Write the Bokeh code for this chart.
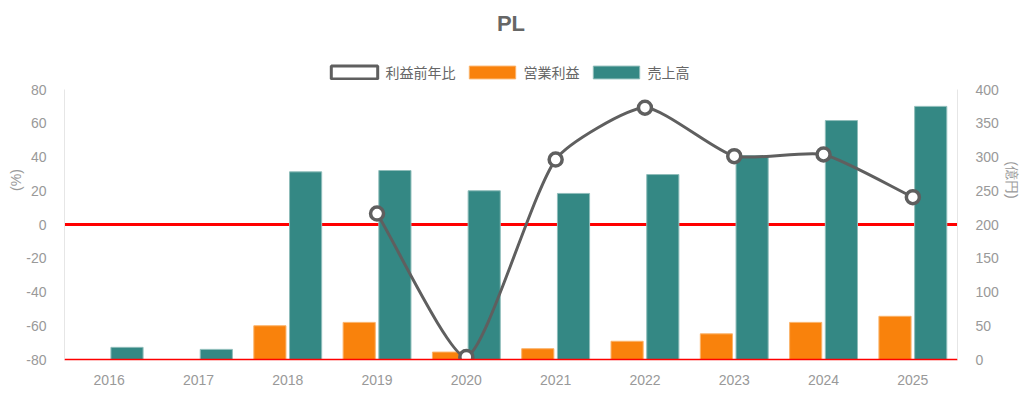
import numpy as np
from bokeh.plotting import figure
from bokeh.models import (ColumnDataSource, FactorRange, Range1d, LinearAxis, FixedTicker,
                          Span, Legend, LegendItem, Label)
from bokeh.transform import dodge
from bokeh.embed import file_html
from bokeh.resources import INLINE

# ---- data ----
years = ["2016", "2017", "2018", "2019", "2020", "2021", "2022", "2023", "2024", "2025"]
sales = [18, 15, 278, 280, 250, 246, 274, 302, 354, 375]            # 売上高 (億円)
op_profit = [np.nan, np.nan, 50, 55, 11, 16, 27, 38, 55, 64]        # 営業利益 (億円)
profit_yoy = [np.nan, np.nan, np.nan, 6.5, -78.5, 38.5, 69.2, 40.5, 41.5, 16.2]  # 利益前年比 (%)
left_ticks = [-80, -60, -40, -20, 0, 20, 40, 60, 80]
right_ticks = [0, 50, 100, 150, 200, 250, 300, 350, 400]

TEAL = "#348884"
ORANGE = "#F9820C"
GRAY_LINE = "#5f5f5f"
TICK_COLOR = "#999999"
TEXT_COLOR = "#666666"

W, H = 1024, 393
BL, BR, BT, BB = 64, 67, 0, 34
FW, FH = W - BL - BR, H - BT - BB
PLOT_TOP = 89                      # pixel row of the axis maxima
AREA_H = FH - PLOT_TOP             # height of the data area in px
L_MIN, L_MAX = -80, 80
R_MIN, R_MAX = 0, 400

p = figure(width=W, height=H, output_backend="svg", toolbar_location=None,
           x_range=FactorRange(*years, range_padding=0),
           y_range=Range1d(L_MIN, L_MIN + (L_MAX - L_MIN) * FH / AREA_H),
           title=None, min_border_left=BL, min_border_right=BR,
           min_border_top=BT, min_border_bottom=BB)
p.extra_y_ranges = {"right": Range1d(R_MIN, R_MIN + (R_MAX - R_MIN) * FH / AREA_H)}
p.outline_line_color = None
p.xgrid.grid_line_color = None
p.ygrid.grid_line_color = None
p.background_fill_color = "white"
p.border_fill_color = "white"

src = ColumnDataSource(dict(years=years, sales=sales, op=op_profit))

# zero line (behind bars)
p.add_layout(Span(location=0, dimension="width", line_color="#ff0000", line_width=3, level="underlay"))

r_op = p.vbar(x=dodge("years", -0.2, range=p.x_range), top="op", bottom=0, width=0.36,
              source=src, y_range_name="right", fill_color=ORANGE, line_color="#fbb36a", line_width=1)
r_sales = p.vbar(x=dodge("years", 0.2, range=p.x_range), top="sales", bottom=0, width=0.36,
                 source=src, y_range_name="right", fill_color=TEAL, line_color="#8fbdba", line_width=1)

# ---- smooth line (Chart.js-like bezier) ----
XPX = FW / len(years)
YPX = AREA_H / float(L_MAX - L_MIN)
pts = [(i + 0.5, v) for i, v in enumerate(profit_yoy) if not np.isnan(v)]
n = len(pts)
tension = 0.2
cps = []
for i in range(n):
    cur = pts[i]
    prev = pts[i - 1] if i > 0 else cur
    nxt = pts[i + 1] if i < n - 1 else cur
    d01 = np.hypot((cur[0] - prev[0]) * XPX, (cur[1] - prev[1]) * YPX)
    d12 = np.hypot((nxt[0] - cur[0]) * XPX, (nxt[1] - cur[1]) * YPX)
    tot = d01 + d12
    s01 = d01 / tot if tot else 0
    s12 = d12 / tot if tot else 0
    fa, fb = tension * s01, tension * s12
    pcx = cur[0] - fa * (nxt[0] - prev[0]); pcy = cur[1] - fa * (nxt[1] - prev[1])
    ncx = cur[0] + fb * (nxt[0] - prev[0]); ncy = cur[1] + fb * (nxt[1] - prev[1])
    pcy = min(max(pcy, L_MIN), L_MAX); ncy = min(max(ncy, L_MIN), L_MAX)
    cps.append(((pcx, pcy), (ncx, ncy)))

bz = dict(x0=[], y0=[], x1=[], y1=[], cx0=[], cy0=[], cx1=[], cy1=[])
for i in range(n - 1):
    bz["x0"].append(pts[i][0]); bz["y0"].append(pts[i][1])
    bz["x1"].append(pts[i + 1][0]); bz["y1"].append(pts[i + 1][1])
    bz["cx0"].append(cps[i][1][0]); bz["cy0"].append(cps[i][1][1])
    bz["cx1"].append(cps[i + 1][0][0]); bz["cy1"].append(cps[i + 1][0][1])
p.bezier(x0="x0", y0="y0", x1="x1", y1="y1", cx0="cx0", cy0="cy0", cx1="cx1", cy1="cy1",
         source=ColumnDataSource(bz), line_color=GRAY_LINE, line_width=3)
p.scatter(x=[pt[0] for pt in pts], y=[pt[1] for pt in pts], size=13, marker="circle",
          fill_color="white", line_color=GRAY_LINE, line_width=3.5)

# hidden renderer used only for the legend box of the line series
r_dummy = p.vbar(x=["2016"], top=[np.nan], bottom=[np.nan], width=0.1,
                 fill_color="white", line_color=GRAY_LINE, line_width=3)

# ---- axes ----
p.xaxis.axis_line_color = "#ff0000"
p.xaxis.axis_line_width = 1.5
p.xaxis.major_tick_line_color = None
p.xaxis.minor_tick_line_color = None
p.xaxis.major_label_text_color = TICK_COLOR
p.xaxis.major_label_text_font = "Liberation Sans"
p.xaxis.major_label_text_font_size = "14px"
p.xaxis.major_label_standoff = 9

la = p.yaxis[0]
la.ticker = FixedTicker(ticks=left_ticks)
la.major_label_overrides = {t: str(t) for t in left_ticks}
la.bounds = (L_MIN, L_MAX)
la.axis_line_color = "#e6e6e6"
la.major_tick_line_color = None
la.minor_tick_line_color = None
la.major_label_text_color = TICK_COLOR
la.major_label_text_font = "Liberation Sans"
la.major_label_text_font_size = "14px"
la.major_label_standoff = 12
la.axis_label = "(%)"
la.axis_label_text_color = TICK_COLOR
la.axis_label_text_font = "Liberation Sans"
la.axis_label_text_font_style = "normal"
la.axis_label_text_font_size = "14px"
la.axis_label_standoff = -1

ra = LinearAxis(y_range_name="right", ticker=FixedTicker(ticks=right_ticks), bounds=(R_MIN, R_MAX))
ra.axis_line_color = "#e6e6e6"
ra.major_tick_line_color = None
ra.minor_tick_line_color = None
ra.major_label_text_color = TICK_COLOR
ra.major_label_text_font = "Liberation Sans"
ra.major_label_text_font_size = "14px"
ra.major_label_standoff = 12
ra.axis_label = "(億円)"
ra.axis_label_text_color = TICK_COLOR
ra.axis_label_text_font = "Liberation Sans"
ra.axis_label_text_font_style = "normal"
ra.axis_label_text_font_size = "14px"
ra.axis_label_standoff = 2
p.add_layout(ra, "right")

# ---- legend & title (inside the frame, above the data area) ----
LEG_W = 372
LEG_H = 24
legend = Legend(items=[LegendItem(label="利益前年比", renderers=[r_dummy]),
                       LegendItem(label="営業利益", renderers=[r_op]),
                       LegendItem(label="売上高", renderers=[r_sales])],
                orientation="horizontal", location=((FW - LEG_W) / 2, FH - 70 - LEG_H / 2),
                glyph_width=58, glyph_height=16, label_height=16, label_standoff=3,
                spacing=7, padding=4, margin=0,
                label_text_font="Noto Sans CJK JP", label_text_font_size="14px",
                label_text_color=TEXT_COLOR, border_line_color=None,
                background_fill_alpha=0)
p.add_layout(legend, "center")
p.add_layout(Label(x=FW / 2, y=FH - 23, x_units="screen", y_units="screen", text="PL",
                   text_align="center", text_baseline="middle", text_font="Liberation Sans",
                   text_font_size="22px", text_font_style="bold", text_color=TEXT_COLOR))

open("out.html", "w").write(file_html(p, INLINE))
